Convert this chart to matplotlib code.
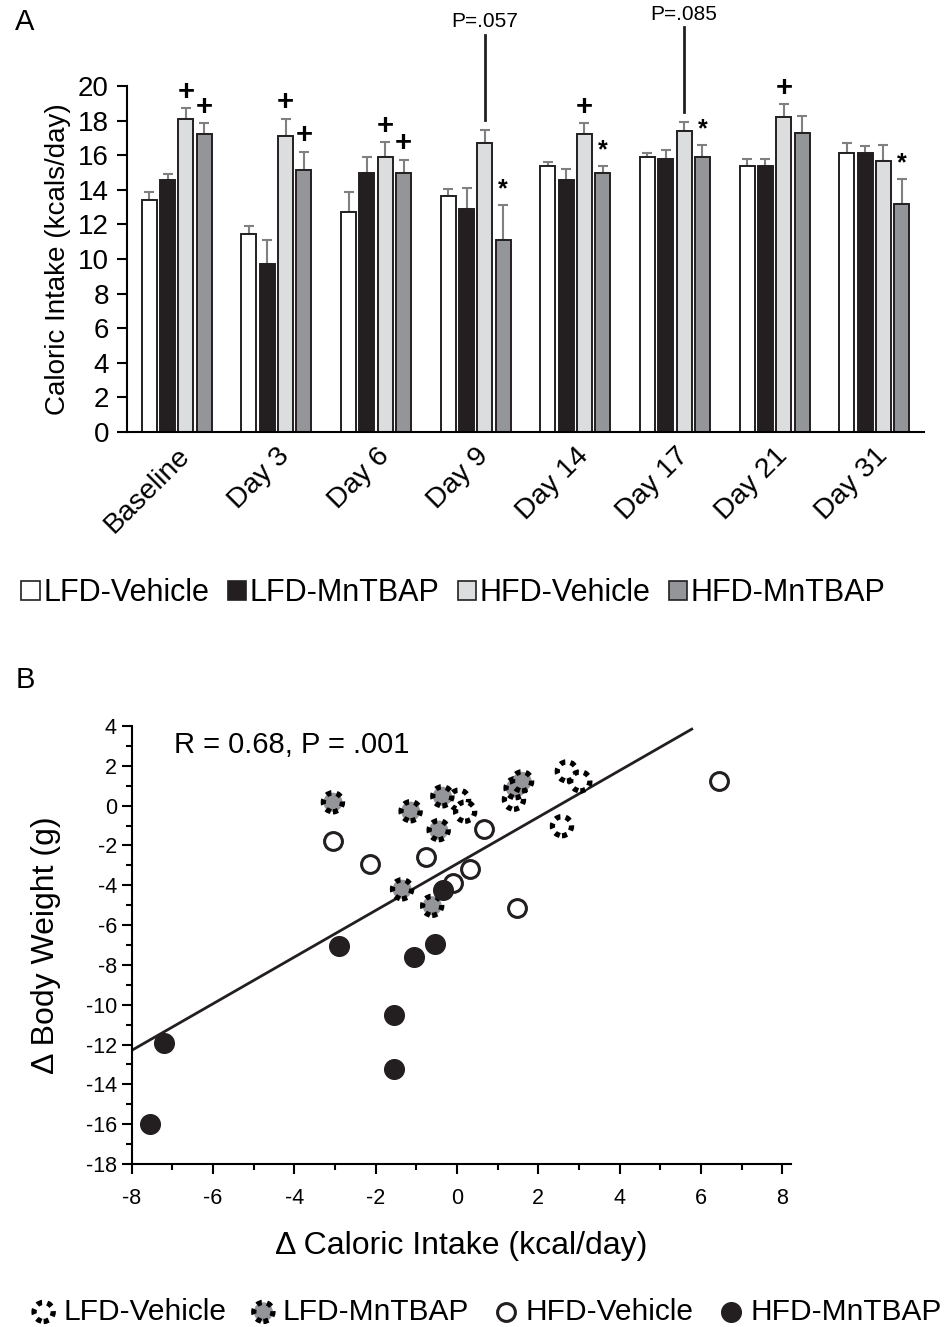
import numpy as np
import matplotlib
matplotlib.use("Agg")
import matplotlib.pyplot as plt
from matplotlib.patches import Patch
from matplotlib.transforms import ScaledTranslation

plt.rcParams['font.family'] = ['Liberation Sans', 'DejaVu Sans']
plt.rcParams['axes.unicode_minus'] = False

# panel A data
days = ["Baseline", "Day 3", "Day 6", "Day 9", "Day 14", "Day 17", "Day 21", "Day 31"]
groups = ["LFD-Vehicle", "LFD-MnTBAP", "HFD-Vehicle", "HFD-MnTBAP"]
lfd_veh = [13.4, 11.45, 12.7, 13.65, 15.35, 15.9, 15.4, 16.15]
lfd_mn = [14.55, 9.7, 15.0, 12.9, 14.55, 15.8, 15.4, 16.1]
hfd_veh = [18.1, 17.1, 15.9, 16.7, 17.2, 17.4, 18.2, 15.65]
hfd_mn = [17.2, 15.15, 15.0, 11.1, 15.0, 15.9, 17.3, 13.2]
lfd_veh_err = [0.45, 0.45, 1.15, 0.4, 0.25, 0.25, 0.4, 0.55]
lfd_mn_err = [0.35, 1.4, 0.9, 1.2, 0.65, 0.5, 0.4, 0.45]
hfd_veh_err = [0.6, 1.0, 0.85, 0.75, 0.65, 0.5, 0.75, 0.95]
hfd_mn_err = [0.65, 1.05, 0.75, 2.05, 0.4, 0.7, 0.95, 1.45]
# (day index, group index, symbol)
sig_marks = [(0, 2, "+"), (0, 3, "+"), (1, 2, "+"), (1, 3, "+"), (2, 2, "+"), (2, 3, "+"),
             (3, 3, "*"), (4, 2, "+"), (4, 3, "*"), (5, 3, "*"), (6, 2, "+"), (7, 3, "*")]
p_notes = [(3, 2, "P=.057"), (5, 2, "P=.085")]

# panel B data
lfdv_x = [0.05, 0.2, 1.4, 2.7, 3.03, 2.58]
lfdv_y = [0.3, -0.3, 0.3, 1.72, 1.22, -1.03]
lfdm_x = [-3.05, -1.14, -0.36, -0.45, 1.44, 1.6, -1.35, -0.61]
lfdm_y = [0.17, -0.28, 0.47, -1.23, 0.88, 1.22, -4.2, -5.03]
hfdv_x = [-3.06, -2.13, -0.77, -0.1, 0.31, 0.66, 1.48, 6.43]
hfdv_y = [-1.8, -2.95, -2.6, -3.87, -3.2, -1.17, -5.12, 1.22]
hfdm_x = [-7.55, -7.2, -2.89, -1.06, -0.55, -0.34, -1.56, -1.56]
hfdm_y = [-16.0, -11.9, -7.03, -7.58, -6.93, -4.25, -10.5, -13.25]
fit_slope = 1.172
fit_icpt = -2.92
fit_range = [-8.0, 5.77]

edge = "#231f20"
colors = ["white", "#231f20", "#dcdddf", "#939598"]

fig = plt.figure(figsize=(9.49, 13.27), dpi=100)

# ---------------- panel A ----------------
ax = fig.add_axes([0.1338, 0.6744, 0.8399, 0.2608])
vals = [lfd_veh, lfd_mn, hfd_veh, hfd_mn]
errs = [lfd_veh_err, lfd_mn_err, hfd_veh_err, hfd_mn_err]
x = np.arange(len(days))
step = 0.184
width = 0.15
for i in range(4):
    xs = x + (i - 1.5) * step
    ax.bar(xs, vals[i], width, color=colors[i], edgecolor=edge, linewidth=1.4, zorder=2)
    ax.errorbar(xs, vals[i], yerr=[np.zeros(len(days)), errs[i]], fmt="none",
                ecolor="#808080", elinewidth=1.5, capsize=3.5, capthick=1.5, zorder=1)

for d, g, s in sig_marks:
    xp = d + (g - 1.5) * step
    top = vals[g][d] + errs[g][d]
    if s == "+":
        ax.text(xp, top + 0.15, s, ha="center", va="bottom", fontsize=21,
                fontweight="bold", clip_on=False)
    else:
        ax.text(xp, top + 0.2, s, ha="center", va="bottom", fontsize=18,
                fontweight="bold", clip_on=False)

# p-value brackets above HFD-Vehicle bars
for d, g, s in p_notes:
    xp = d + (g - 1.5) * step
    top = vals[g][d] + errs[g][d]
    ax.plot([xp, xp], [top + 0.6, top + 5.5], color=edge, lw=2, clip_on=False)
    ax.text(xp, top + 6.25, s, ha="center", va="center", fontsize=15, clip_on=False)

ax.set_xlim(-0.5, 7.5)
ax.set_ylim(0, 20)
ax.set_yticks(np.arange(0, 21, 2))
ax.set_xticks(x)
ax.set_xticklabels(days, rotation=45, ha="right", rotation_mode="anchor", fontsize=20.5)
shift = ScaledTranslation(-0.13, -0.08, fig.dpi_scale_trans)
for lab in ax.get_xticklabels():
    lab.set_transform(lab.get_transform() + shift)
ax.tick_params(axis="x", length=0, pad=8)
ax.tick_params(axis="y", labelsize=20, length=7, width=1.5, direction="out", pad=6)
ax.spines["top"].set_visible(False)
ax.spines["right"].set_visible(False)
ax.spines["left"].set_linewidth(1.5)
ax.spines["bottom"].set_linewidth(1.5)
ax.set_ylabel("Caloric Intake (kcals/day)", fontsize=20, labelpad=5)

handles = [Patch(facecolor=colors[i], edgecolor=edge, linewidth=1.2) for i in range(4)]
fig.legend(handles, groups, loc="center", bbox_to_anchor=(0.478, 0.553), ncol=4,
           frameon=False, fontsize=22, handlelength=0.6, handleheight=0.6,
           handletextpad=0.12, columnspacing=0.6)

fig.text(0.016, 1 - 22 / 1327, "A", fontsize=21, va="center")
fig.text(0.016, 1 - 680 / 1327, "B", fontsize=21, va="center")

# ---------------- panel B ----------------
bx = fig.add_axes([0.1386, 0.1228, 0.6945, 0.3301])
ring = dict(edgecolors="black", linewidths=3.8, linestyles=(0, (1, 1.0)), zorder=3)
bx.scatter(lfdv_x, lfdv_y, s=190, facecolors="white", **ring)
bx.scatter(lfdm_x, lfdm_y, s=190, facecolors="#939598", **ring)
bx.scatter(hfdv_x, hfdv_y, s=165, facecolors="white", edgecolors=edge, linewidths=2.2, zorder=3)
bx.scatter(hfdm_x, hfdm_y, s=200, facecolors=edge, edgecolors=edge, zorder=3)
fx = np.array(fit_range)
bx.plot(fx, fit_slope * fx + fit_icpt, color=edge, lw=2, zorder=2)
bx.text(-6.95, 3.05, "R = 0.68, P = .001", fontsize=21, va="center")

bx.set_xlim(-8, 8.2)
bx.set_ylim(-18, 4)
bx.set_xticks(np.arange(-8, 9, 2))
bx.set_xticks(np.arange(-7, 8, 2), minor=True)
bx.set_yticks(np.arange(-18, 5, 2))
bx.set_yticks(np.arange(-17, 4, 2), minor=True)
bx.tick_params(which="major", labelsize=15.5, length=7, width=1.5, direction="out")
bx.tick_params(axis="x", which="major", pad=10)
bx.tick_params(which="minor", length=4, width=1.5, direction="out")
bx.spines["top"].set_visible(False)
bx.spines["right"].set_visible(False)
bx.spines["left"].set_linewidth(1.5)
bx.spines["bottom"].set_linewidth(1.5)
bx.set_xlabel("Δ Caloric Intake (kcal/day)", fontsize=23, labelpad=16)
bx.set_ylabel("Δ Body Weight (g)", fontsize=23, labelpad=18)

lh = [
    bx.scatter([], [], s=190, facecolors="white", **ring),
    bx.scatter([], [], s=190, facecolors="#939598", **ring),
    bx.scatter([], [], s=165, facecolors="white", edgecolors=edge, linewidths=2.2),
    bx.scatter([], [], s=200, facecolors=edge, edgecolors=edge),
]
fig.legend(lh, groups, loc="center", bbox_to_anchor=(0.513, 0.0115), ncol=4,
           frameon=False, fontsize=21.5, handlelength=0.8, handletextpad=0.25,
           columnspacing=0.85, borderaxespad=0)

fig.savefig("out.png", dpi=100)
